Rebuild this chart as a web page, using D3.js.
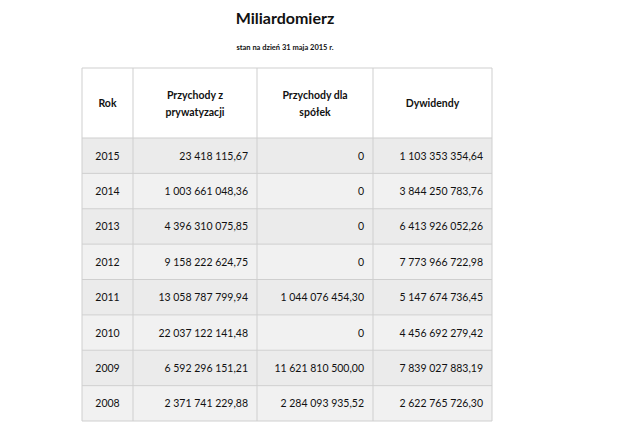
<!DOCTYPE html>
<html><head><meta charset="utf-8">
<script src="https://cdn.jsdelivr.net/npm/d3@7"></script>
<style>body{margin:0;background:#fff}</style>
</head><body><svg id="c" width="640" height="426"></svg>
<script>
const title = "Miliardomierz";
const subtitle = "stan na dzień 31 maja 2015 r.";
const headers = [["Rok"], ["Przychody z", "prywatyzacji"], ["Przychody dla", "spółek"], ["Dywidendy"]];
const years = ["2015","2014","2013","2012","2011","2010","2009","2008"];
const privatization = ["23 418 115,67","1 003 661 048,36","4 396 310 075,85","9 158 222 624,75","13 058 787 799,94","22 037 122 141,48","6 592 296 151,21","2 371 741 229,88"];
const companies = ["0","0","0","0","1 044 076 454,30","0","11 621 810 500,00","2 284 093 935,52"];
const dividends = ["1 103 353 354,64","3 844 250 783,76","6 413 926 052,26","7 773 966 722,98","5 147 674 736,45","4 456 692 279,42","7 839 027 883,19","2 622 765 726,30"];

const svg = d3.select("#c");
const font = "Lato, 'Open Sans', sans-serif";
const colEdges = [82, 133, 257, 373, 492];
const headTop = 68, headBot = 138, bottom = 421;
const y = d3.scaleBand().domain(years).range([headBot, bottom]);

svg.append("text").attr("x", 285).attr("y", 24).attr("text-anchor","middle")
  .attr("font-family", font).attr("font-weight","bold").attr("font-size",16).attr("fill","#111").text(title);
svg.append("text").attr("x", 285).attr("y", 50).attr("text-anchor","middle")
  .attr("font-family", font).attr("font-weight","bold").attr("font-size",7.5).attr("fill","#111").text(subtitle);

// row backgrounds
svg.selectAll("rect.row").data(years).join("rect")
  .attr("x", colEdges[0]).attr("width", colEdges[4]-colEdges[0])
  .attr("y", d => y(d)).attr("height", y.bandwidth())
  .attr("fill", (d,i) => i%2 ? "#f1f1f1" : "#ebebeb");

// grid lines
const g = svg.append("g").attr("stroke","#cfcfcf").attr("stroke-width",1);
colEdges.forEach(x => g.append("line").attr("x1",x).attr("x2",x).attr("y1",headTop).attr("y2",bottom));
[headTop, ...years.map(d => y(d)), bottom].forEach(yy =>
  g.append("line").attr("x1",colEdges[0]).attr("x2",colEdges[4]).attr("y1",yy).attr("y2",yy));

// headers
headers.forEach((lines, i) => {
  const cx = (colEdges[i]+colEdges[i+1])/2;
  const mid = (headTop+headBot)/2 + 4;
  lines.forEach((t, j) => {
    svg.append("text").attr("x", cx).attr("y", mid + (j - (lines.length-1)/2)*17)
      .attr("text-anchor","middle").attr("font-family",font).attr("font-weight","bold")
      .attr("font-size",10.5).attr("fill","#111").text(t);
  });
});

// body
const cols = [years, privatization, companies, dividends];
cols.forEach((arr, i) => {
  svg.selectAll(null).data(arr).join("text")
    .attr("x", i===0 ? (colEdges[0]+colEdges[1])/2 : colEdges[i+1]-9)
    .attr("y", (d,k) => y(years[k]) + y.bandwidth()/2 + 4)
    .attr("text-anchor", i===0 ? "middle" : "end")
    .attr("font-family",font).attr("font-size",10.5).attr("fill","#111").text(d => d);
});
</script></body></html>
